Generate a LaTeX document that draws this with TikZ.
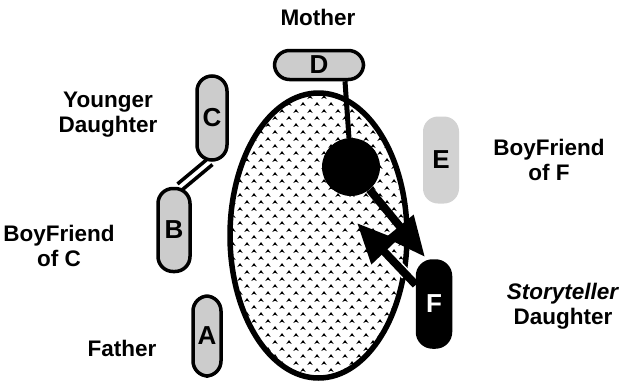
\documentclass[tikz,border=0pt]{standalone}
\usepackage{fontspec}
\setmainfont{Liberation Sans}
\usetikzlibrary{arrows.meta}

\begin{document}
\begin{tikzpicture}[x=1pt, y=-1pt,
    member/.style={draw, line width=3.5pt, fill=gray!40, rounded corners=15pt,
      inner sep=0pt, font=\fontsize{26}{26}\selectfont\bfseries},
    tag/.style={align=center, font=\fontsize{22.5}{25}\selectfont\bfseries},
    flow/.style={line width=8pt, -{Triangle[length=40pt, width=34pt]}}]
  % page frame
  \useasboundingbox (0,0) rectangle (624,381);

  % the family circle, sprinkled with small carets
  \fill[white] (318.5,235.5) ellipse (88.5 and 142.5);
  \begin{scope}
    \clip (318.5,235.5) ellipse (86 and 140);
    \foreach \r in {0,...,41}{
      \foreach \c in {0,...,13}{
        \pgfmathsetmacro{\cx}{226+14*\c+7*mod(\r,2)}
        \pgfmathsetmacro{\cy}{97+7*\r}
        \fill (\cx-2.7,\cy+2) -- (\cx,\cy-2) -- (\cx+2.7,\cy+2)
          -- (\cx,\cy+0.7) -- cycle;
      }
    }
  \end{scope}
  \draw[line width=5.5pt] (318.5,235.5) ellipse (88.5 and 142.5);

  % the members
  \node[member, minimum width=89pt, minimum height=29pt] (D) at (319,65) {D};
  \node[member, minimum width=30pt, minimum height=84pt] (C) at (212,118) {C};
  \node[member, minimum width=32pt, minimum height=83pt] (B) at (174,230) {B};
  \node[member, minimum width=28pt, minimum height=80pt] (A) at (207,336) {A};
  \node[member, draw=none, fill=gray!35, minimum width=36pt, minimum height=87pt]
    (E) at (441,160) {E};
  \node[member, fill=black, text=white, minimum width=33pt, minimum height=86pt]
    (F) at (434,304) {F};
  \node[circle, fill=black, minimum size=58pt, inner sep=0pt] (hub) at (351,167) {};

  % ties
  \draw[line width=5pt] ([xshift=26pt]D.south) -- (hub);
  \draw[line width=3.5pt] ([xshift=-4.5pt, yshift=2.8pt]C.south)
    -- ([xshift=3.5pt, yshift=2.8pt]B.north);
  \draw[line width=3.5pt] ([xshift=0.5pt, yshift=-2.8pt]C.south)
    -- ([xshift=8.5pt, yshift=-2.8pt]B.north);

  % the two flows between hub and storyteller
  \coordinate (toF) at (425,257);
  \coordinate (toHub) at (357,223);
  \draw[flow] (hub) -- (toF);
  \draw[flow, preaction={draw=white, line width=11pt, -, shorten <=14pt, shorten >=30pt}]
    (F) -- (toHub);

  % labels
  \node[tag] (mother) at (318,17.5) {Mother};
  \node[tag] (younger) at (108,115) {Younger\\Daughter};
  \node[tag] (bfC) at (59,245.5) {BoyFriend\\of C};
  \node[tag] (father) at (122,348.5) {Father};
  \node[tag] (bfF) at (549,160) {BoyFriend\\of F};
  \node[tag] (teller) at (563,306) {\textit{Storyteller}\\Daughter};
\end{tikzpicture}
\end{document}
